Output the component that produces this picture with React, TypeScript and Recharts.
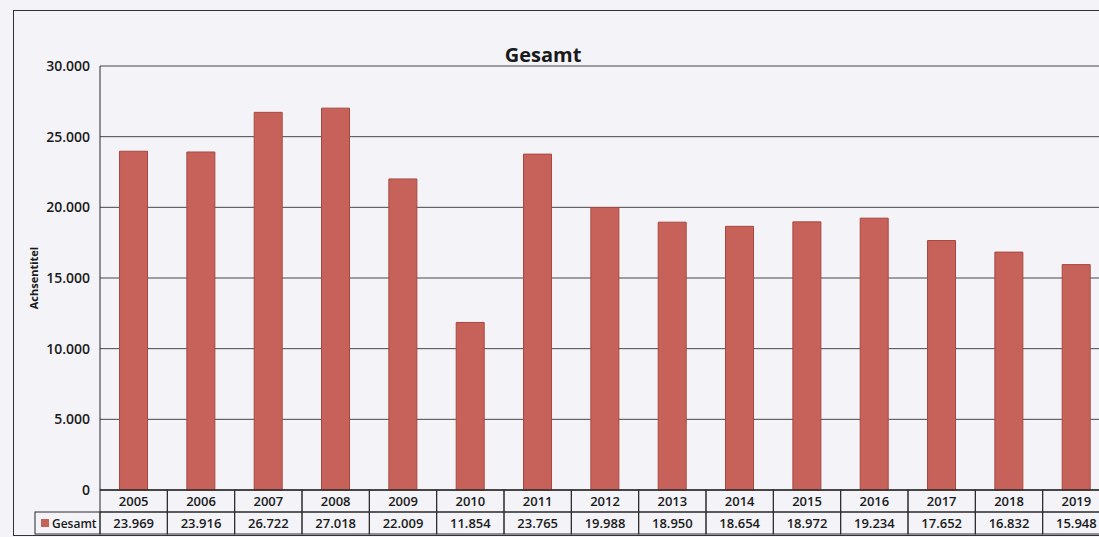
import { Bar, BarChart, CartesianGrid, XAxis, YAxis } from 'recharts';

const years = ['2005', '2006', '2007', '2008', '2009', '2010', '2011', '2012', '2013', '2014', '2015', '2016', '2017', '2018', '2019'];
const gesamt = [23969, 23916, 26722, 27018, 22009, 11854, 23765, 19988, 18950, 18654, 18972, 19234, 17652, 16832, 15948];
const yTicks = [0, 5000, 10000, 15000, 20000, 25000, 30000];

const CHART_W = 1125;
const CHART_H = 537;
const MARGIN = { top: 66, right: 15, bottom: 0, left: 0 };
const Y_W = 100;
const COL_W = (CHART_W - MARGIN.left - MARGIN.right - Y_W) / years.length;
const ROW_H = 22;
const BAR_FILL = '#c6625a';
const INK = '#2a2a2a';
const FONT = '"Open Sans", sans-serif';

const fmt = (v: number) => v.toLocaleString('de-DE');

const data = years.map((year, i) => ({ year, value: gesamt[i] }));

function TableTick(props: any) {
  const { x, y, payload, index } = props;
  const left = x - COL_W / 2;
  return (
    <g>
      <rect x={left} y={y} width={COL_W} height={ROW_H} fill="none" stroke={INK} strokeWidth={1} />
      <rect x={left} y={y + ROW_H} width={COL_W} height={ROW_H} fill="none" stroke={INK} strokeWidth={1} />
      <text x={x} y={y + 16} textAnchor="middle" fontSize={13} fontWeight={600} fill="#1a1a1a" fontFamily={FONT}>
        {payload.value}
      </text>
      <text x={x} y={y + ROW_H + 16} textAnchor="middle" fontSize={13} fontWeight={600} fill="#1a1a1a" fontFamily={FONT}>
        {fmt(gesamt[index])}
      </text>
      {index === 0 && (
        <g>
          <rect x={35} y={y + ROW_H} width={left - 35} height={ROW_H} fill="none" stroke={INK} strokeWidth={1} />
          <rect x={41} y={y + ROW_H + 7} width={8} height={8} fill={BAR_FILL} />
          <text x={52} y={y + ROW_H + 16} fontSize={12} fontWeight={600} fill="#1a1a1a" fontFamily={FONT}>
            Gesamt
          </text>
        </g>
      )}
    </g>
  );
}

export default function App() {
  return (
    <div
      style={{
        position: 'fixed',
        left: 0,
        top: 0,
        width: 1099,
        height: 537,
        overflow: 'hidden',
        background: '#f3f3f8',
      }}
    >
      <div
        style={{
          position: 'absolute',
          left: 13,
          top: 10,
          width: 1200,
          height: 526,
          border: '1.5px solid #333',
          boxSizing: 'border-box',
        }}
      />
      <div
        style={{
          position: 'absolute',
          left: 443,
          width: 200,
          top: 41,
          textAlign: 'center',
          fontFamily: FONT,
          fontWeight: 700,
          fontSize: 20,
          color: '#1a1a1a',
        }}
      >
        Gesamt
      </div>
      <div style={{ position: 'absolute', left: 0, top: 0 }}>
        <BarChart width={CHART_W} height={CHART_H} data={data} margin={MARGIN} barCategoryGap="29%">
          <CartesianGrid vertical={false} stroke={INK} strokeWidth={1} strokeOpacity={0.85} />
          <XAxis
            dataKey="year"
            height={47}
            interval={0}
            tickLine={false}
            tickSize={0}
            tickMargin={0}
            axisLine={{ stroke: INK }}
            tick={<TableTick />}
          />
          <YAxis
            width={Y_W}
            domain={[0, 30000]}
            ticks={yTicks}
            interval={0}
            tickLine={false}
            tickMargin={4}
            axisLine={{ stroke: INK }}
            tickFormatter={fmt}
            tick={{ fontSize: 14, fontWeight: 600, fill: '#1a1a1a', fontFamily: FONT }}
            label={{
              value: 'Achsentitel',
              angle: -90,
              position: 'insideLeft',
              offset: 34,
              style: { textAnchor: 'middle', fontSize: 11, fontWeight: 700, fill: '#1a1a1a', fontFamily: FONT },
            }}
          />
          <Bar dataKey="value" fill={BAR_FILL} stroke="#a8483f" strokeWidth={1} isAnimationActive={false} />
        </BarChart>
      </div>
    </div>
  );
}
